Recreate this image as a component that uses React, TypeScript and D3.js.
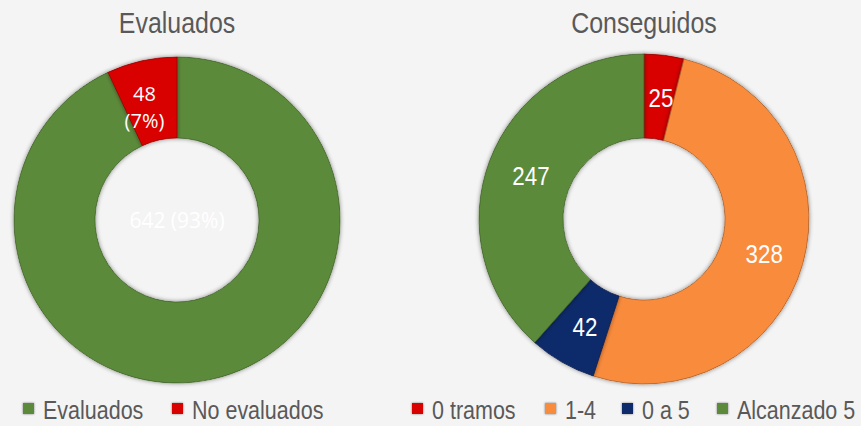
import * as d3 from "d3";

const evalLabels = ["Evaluados", "No evaluados"];
const evalValues = [642, 48];
const evalColors = ["#5b8a3a", "#d90000"];

const consLabels = ["0 tramos", "1-4", "0 a 5", "Alcanzado 5"];
const consValues = [25, 328, 42, 247];
const consColors = ["#d90000", "#f98b3c", "#0c2a6b", "#5b8a3a"];

const W = 861;
const H = 426;
const sans = "'Liberation Sans', Arial, sans-serif";
const textColor = "#595959";

// Arial Narrow is not installed, so squeeze Liberation Sans horizontally
function NText({ x, y, size, fill = textColor, anchor = "start", children }) {
  return (
    <text
      transform={`translate(${x},${y}) scale(0.86,1)`}
      textAnchor={anchor}
      fontFamily={sans}
      fontSize={size}
      fill={fill}
    >
      {children}
    </text>
  );
}

function Donut({ cx, cy, values, colors, outer, inner, label }) {
  const pie = d3.pie<number>().sort(null).value(d => d);
  const arcs = pie(values);
  const arc = d3.arc<d3.PieArcDatum<number>>().innerRadius(inner).outerRadius(outer);
  return (
    <g transform={`translate(${cx},${cy})`}>
      {arcs.map((a, i) => (
        <path
          key={i}
          d={arc(a) || ""}
          fill={colors[i]}
          stroke={d3.color(colors[i])!.darker(1.2).toString()}
          strokeWidth={0.8}
          filter="url(#bevel)"
        />
      ))}
      {arcs.map((a, i) => {
        const [x, y] = arc.centroid(a);
        return label(a, i, x, y);
      })}
    </g>
  );
}

export default function App() {
  const total = d3.sum(evalValues);
  const pct = (v: number) => `${Math.round((v / total) * 100)}%`;

  const legendLeft = [23, 172];
  const legendRight = [412, 545, 622, 717];

  return (
    <svg width={W} height={H} style={{ position: "absolute", left: 0, top: 0, background: "#f4f4f4" }}>
      <defs>
        <filter id="bevel" x="-5%" y="-5%" width="110%" height="110%">
          <feGaussianBlur in="SourceAlpha" stdDeviation="2" result="blur" />
          <feComposite operator="arithmetic" k2={-1} k3={1} in="SourceAlpha" in2="blur" result="edge" />
          <feFlood floodColor="#000" floodOpacity="0.45" />
          <feComposite operator="in" in2="edge" result="shadow" />
          <feMerge>
            <feMergeNode in="SourceGraphic" />
            <feMergeNode in="shadow" />
          </feMerge>
        </filter>
        <filter id="bevelSmall" x="-20%" y="-20%" width="140%" height="140%">
          <feGaussianBlur in="SourceAlpha" stdDeviation="1" result="blur" />
          <feComposite operator="arithmetic" k2={-1} k3={1} in="SourceAlpha" in2="blur" result="edge" />
          <feFlood floodColor="#000" floodOpacity="0.5" />
          <feComposite operator="in" in2="edge" result="shadow" />
          <feMerge>
            <feMergeNode in="SourceGraphic" />
            <feMergeNode in="shadow" />
          </feMerge>
        </filter>
      </defs>

      <NText x={177} y={33} size={29} anchor="middle">Evaluados</NText>
      <NText x={644} y={33} size={29} anchor="middle">Conseguidos</NText>

      <Donut
        cx={177}
        cy={220}
        values={evalValues}
        colors={evalColors}
        outer={163}
        inner={82}
        label={(a, i, x, y) =>
          i === 1 ? (
            <g key={i} fontFamily="'Open Sans', sans-serif" fontSize={20} fill="#fff" textAnchor="middle">
              <text x={x - 6} y={y + 1}>{a.data}</text>
              <text x={x - 6} y={y + 28}>({pct(a.data)})</text>
            </g>
          ) : (
            <text key={i} x={0} y={8} textAnchor="middle" fontFamily="'Open Sans', sans-serif" fontSize={21} fill="#fff">
              {a.data} ({pct(a.data)})
            </text>
          )
        }
      />

      <Donut
        cx={644}
        cy={219}
        values={consValues}
        colors={consColors}
        outer={165}
        inner={81}
        label={(a, i, x, y) => (
          <NText key={i} x={x + 2} y={y + 10} size={26} fill="#fff" anchor="middle">
            {a.data}
          </NText>
        )}
      />

      {evalLabels.map((l, i) => (
        <g key={l} transform={`translate(${legendLeft[i]},403)`}>
          <rect width={11} height={11} fill={evalColors[i]} filter="url(#bevelSmall)" />
          <NText x={20} y={16} size={25}>{l}</NText>
        </g>
      ))}
      {consLabels.map((l, i) => (
        <g key={l} transform={`translate(${legendRight[i]},403)`}>
          <rect width={11} height={11} fill={consColors[i]} filter="url(#bevelSmall)" />
          <NText x={20} y={16} size={25}>{l}</NText>
        </g>
      ))}
    </svg>
  );
}
